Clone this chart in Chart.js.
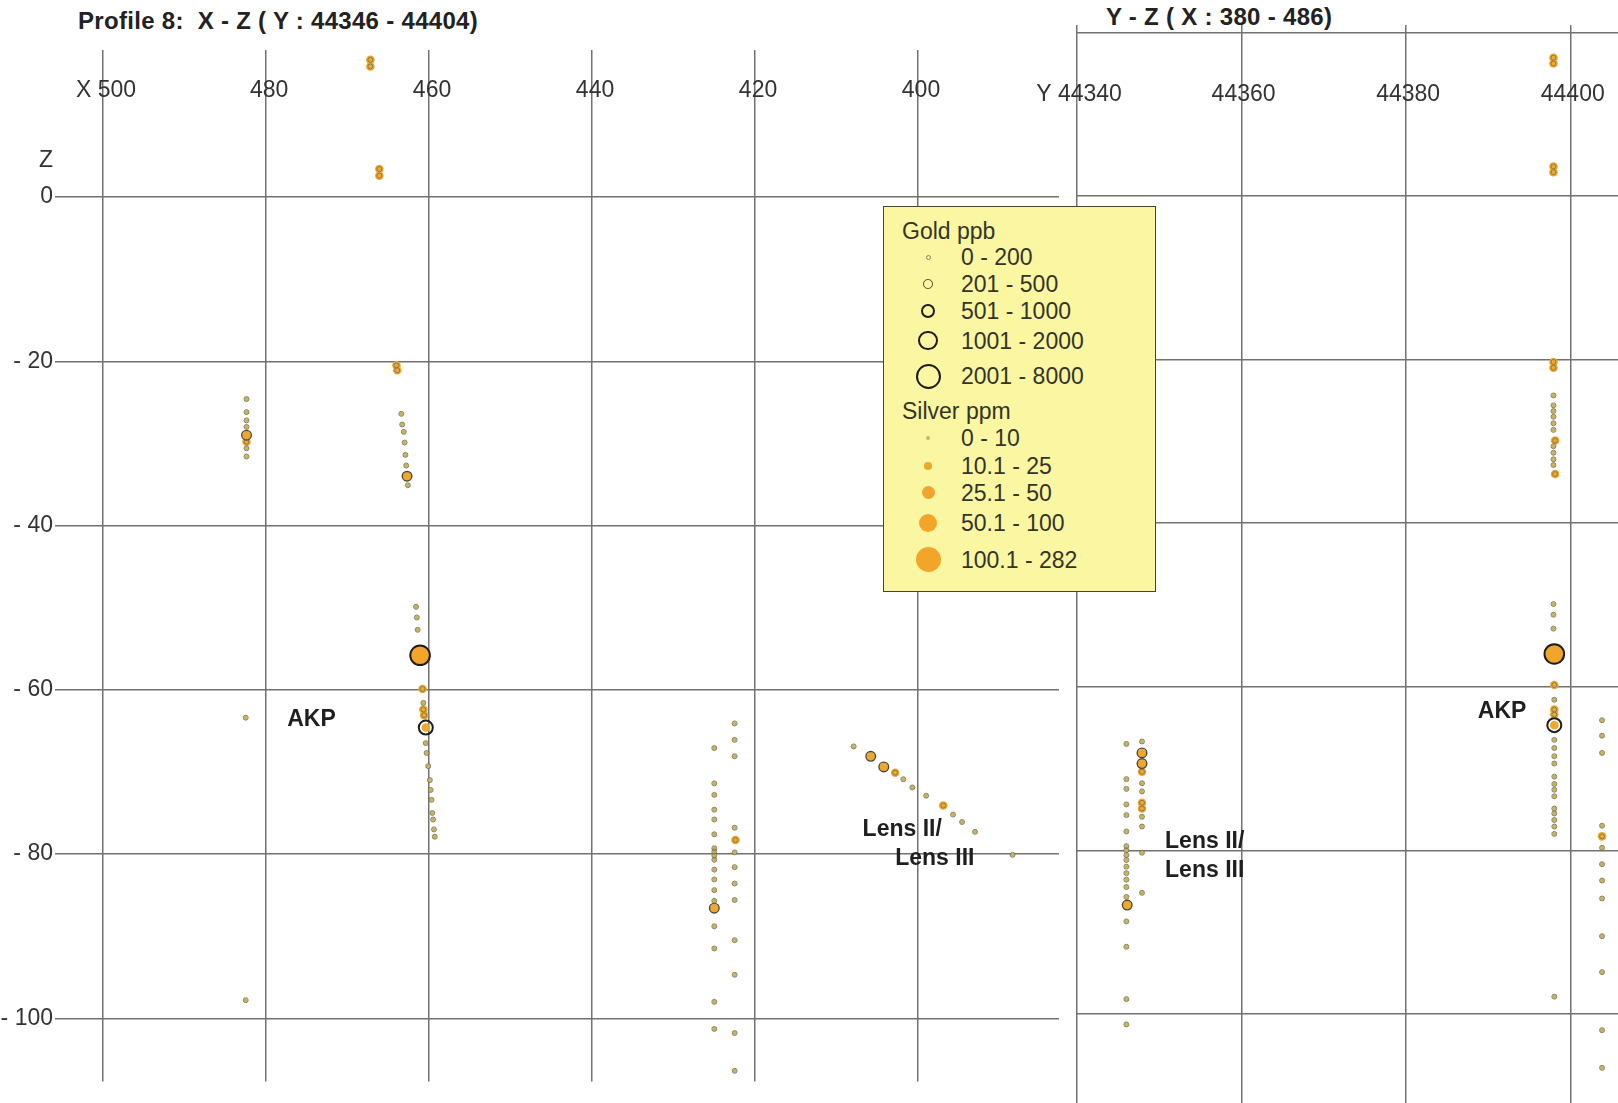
<!DOCTYPE html>
<html>
<head>
<meta charset="utf-8">
<script src="https://cdn.jsdelivr.net/npm/chart.js@4.4.1/dist/chart.umd.min.js"></script>
<style>
  html, body { margin: 0; padding: 0; background: #fff; }
  body { width: 1618px; height: 1103px; position: relative; overflow: hidden;
         font-family: "Liberation Sans", Arial, Helvetica, sans-serif; color: #2b2b2b; }
  #wrapXZ { position: absolute; left: 0; top: 0; width: 1070px; height: 1103px; }
  #wrapYZ { position: absolute; left: 1000px; top: 0; width: 618px; height: 1103px; }
  .title { position: absolute; font-weight: bold; font-size: 24px; line-height: 28px; letter-spacing: 0.3px;
           white-space: pre; color: #222; }
  #legend { position: absolute; left: 883px; top: 206px; width: 271px; height: 384px;
            background: #faf6a2; border: 1.5px solid #454535; }
  #legend .row { position: absolute; left: 0; width: 100%; height: 28px; line-height: 28px;
                 font-size: 23px; color: #343428; white-space: pre; }
  #legend .sym { position: absolute; border-radius: 50%; box-sizing: border-box; }
</style>
</head>
<body>
<div class="title" style="left:78px; top:7px;">Profile 8:  X - Z ( Y : 44346 - 44404)</div>
<div class="title" style="left:1106px; top:3px;">Y - Z ( X : 380 - 486)</div>
<div id="wrapXZ"><canvas id="xz" width="1070" height="1103"></canvas></div>
<div id="wrapYZ"><canvas id="yz" width="618" height="1103"></canvas></div>
<div id="legend"></div>

<script>
// ─── Data ─────────────────────────────────────────────────────────────────────
// every sample: [easting or northing, Z, silver class, gold class]

// X - Z section (Y 44346 - 44404)
const xzHole467 = [[467.2, 16.7, 1, 0], [467.2, 15.9, 1, 0], [466.1, 3.4, 1, 0], [466.1, 2.6, 1, 0]];
const xzHole464 = [[464.0, -20.5, 1, 0], [463.9, -21.1, 1, 0], [463.4, -26.4, 0, 0], [463.3, -27.7, 0, 0],
                   [463.1, -28.6, 0, 0], [463.0, -29.9, 0, 0], [462.9, -31.4, 0, 0], [462.8, -32.7, 0, 0],
                   [462.7, -34.0, 1, 1], [462.6, -35.1, 0, 0]];
const xzHole482 = [[482.4, -24.6, 0, 0], [482.4, -26.2, 0, 0], [482.4, -27.2, 0, 0], [482.4, -28.0, 0, 0],
                   [482.4, -29.0, 1, 1], [482.4, -29.8, 1, 0], [482.4, -30.6, 0, 0], [482.4, -31.6, 0, 0],
                   [482.5, -63.4, 0, 0], [482.5, -97.8, 0, 0]];
const xzHoleAKP = [[461.6, -49.9, 0, 0], [461.5, -51.2, 0, 0], [461.4, -52.7, 0, 0], [461.1, -55.8, 3, 3],
                   [460.8, -59.9, 1, 0], [460.7, -61.6, 0, 0], [460.7, -62.4, 1, 0], [460.6, -63.1, 1, 0],
                   [460.4, -64.6, 1, 2], [460.4, -66.5, 0, 0], [460.3, -67.7, 0, 0], [460.1, -69.3, 0, 0],
                   [459.9, -71.0, 0, 0], [459.8, -72.2, 0, 0], [459.7, -73.4, 0, 0], [459.6, -75.0, 0, 0],
                   [459.5, -75.8, 0, 0], [459.4, -77.0, 0, 0], [459.3, -77.9, 0, 0]];
const xzHole425 = [[425.0, -67.1, 0, 0], [425.0, -71.4, 0, 0], [425.0, -72.8, 0, 0], [425.0, -74.6, 0, 0],
                   [425.0, -75.8, 0, 0], [425.0, -77.6, 0, 0], [425.0, -79.3, 0, 0], [425.0, -79.7, 0, 0],
                   [425.0, -80.2, 0, 0], [425.0, -80.7, 0, 0], [425.0, -81.9, 0, 0], [425.0, -83.1, 0, 0],
                   [425.0, -84.4, 0, 0], [425.0, -85.7, 0, 0], [425.0, -86.6, 1, 1], [425.0, -88.8, 0, 0],
                   [425.0, -91.5, 0, 0], [425.0, -98.0, 0, 0], [425.0, -101.3, 0, 0]];
const xzHole422 = [[422.5, -64.1, 0, 0], [422.5, -66.1, 0, 0], [422.5, -68.1, 0, 0], [422.5, -76.8, 0, 0],
                   [422.4, -78.3, 1, 0], [422.5, -79.8, 0, 0], [422.5, -81.6, 0, 0], [422.5, -83.6, 0, 0],
                   [422.5, -85.6, 0, 0], [422.5, -90.5, 0, 0], [422.5, -94.7, 0, 0], [422.5, -101.8, 0, 0],
                   [422.5, -106.4, 0, 0]];
const xzHoleLens = [[407.9, -66.9, 0, 0], [405.8, -68.1, 1, 1], [404.2, -69.4, 1, 1], [402.8, -70.1, 1, 0],
                    [401.8, -70.9, 0, 0], [400.7, -71.9, 0, 0], [399.0, -72.9, 0, 0], [396.9, -74.1, 1, 0],
                    [395.7, -75.2, 0, 0], [394.6, -76.1, 0, 0], [393.0, -77.3, 0, 0], [388.4, -80.1, 0, 0]];

// Y - Z section (X 380 - 486)
const yzHole346 = [[44346.0, -67.0, 0, 0], [44346.0, -71.3, 0, 0], [44346.0, -72.5, 0, 0], [44346.0, -74.4, 0, 0],
                   [44346.0, -75.7, 0, 0], [44346.0, -77.7, 0, 0], [44346.0, -79.5, 0, 0], [44346.0, -80.0, 0, 0],
                   [44346.0, -80.6, 0, 0], [44346.0, -81.2, 0, 0], [44346.0, -82.0, 0, 0], [44346.0, -82.8, 0, 0],
                   [44346.0, -83.6, 0, 0], [44346.0, -84.5, 0, 0], [44346.0, -85.7, 0, 0], [44346.1, -86.7, 1, 1],
                   [44346.0, -88.7, 0, 0], [44346.0, -91.8, 0, 0], [44346.0, -98.2, 0, 0], [44346.0, -101.3, 0, 0]];
const yzHole348 = [[44347.9, -66.7, 0, 0], [44347.9, -68.1, 1, 1], [44347.9, -69.4, 1, 1], [44347.9, -70.4, 1, 0],
                   [44347.9, -71.8, 0, 0], [44347.9, -72.8, 0, 0], [44347.9, -74.2, 1, 0], [44347.9, -74.9, 1, 0],
                   [44347.9, -75.9, 0, 0], [44347.9, -77.1, 0, 0], [44347.9, -80.3, 0, 0], [44347.9, -85.2, 0, 0]];
const yzHoleAKP = [[44397.9, 16.9, 1, 0], [44397.9, 16.2, 1, 0], [44397.9, 3.6, 1, 0], [44397.9, 2.9, 1, 0],
                   [44397.9, -20.3, 1, 0], [44397.9, -21.0, 1, 0], [44397.9, -24.4, 0, 0], [44397.9, -25.6, 0, 0],
                   [44397.9, -26.3, 0, 0], [44397.9, -27.0, 0, 0], [44397.9, -27.8, 0, 0], [44397.9, -28.6, 0, 0],
                   [44398.1, -29.9, 1, 0], [44397.9, -30.6, 0, 0], [44397.9, -31.4, 0, 0], [44397.9, -32.2, 0, 0],
                   [44397.9, -32.9, 0, 0], [44398.1, -34.0, 1, 0], [44397.9, -49.9, 0, 0], [44397.9, -51.2, 0, 0],
                   [44397.9, -52.9, 0, 0], [44398.0, -56.0, 3, 3], [44398.0, -59.8, 1, 0], [44398.0, -61.6, 0, 0],
                   [44398.0, -62.8, 1, 0], [44398.0, -63.4, 1, 0], [44398.0, -64.7, 1, 2], [44398.0, -66.5, 0, 0],
                   [44398.0, -67.5, 0, 0], [44398.0, -68.5, 0, 0], [44398.0, -69.4, 0, 0], [44398.0, -71.0, 0, 0],
                   [44398.0, -71.9, 0, 0], [44398.0, -72.6, 0, 0], [44398.0, -73.4, 0, 0], [44398.0, -74.9, 0, 0],
                   [44398.0, -75.5, 0, 0], [44398.0, -76.3, 0, 0], [44398.0, -77.1, 0, 0], [44398.0, -78.0, 0, 0],
                   [44398.0, -97.9, 0, 0]];
const yzHole404 = [[44403.8, -64.1, 0, 0], [44403.8, -66.0, 0, 0], [44403.8, -68.1, 0, 0], [44403.8, -77.0, 0, 0],
                   [44403.8, -78.3, 1, 0], [44403.8, -79.7, 0, 0], [44403.8, -81.7, 0, 0], [44403.8, -83.7, 0, 0],
                   [44403.8, -85.9, 0, 0], [44403.8, -90.5, 0, 0], [44403.8, -94.9, 0, 0], [44403.8, -102.0, 0, 0],
                   [44403.8, -106.6, 0, 0]];

// axis ticks
const xzTicksX = [500, 480, 460, 440, 420, 400];
const yzTicksY = [44340, 44360, 44380, 44400];
const zTicksLeft = [0, -20, -40, -60, -80, -100];
const zTicksRight = [20, 0, -20, -40, -60, -80, -100];
const zMark = 4.45; // where the "Z" caption sits on the left axis

// classes
const goldLabels   = ["0 - 200", "201 - 500", "501 - 1000", "1001 - 2000", "2001 - 8000"];
const silverLabels = ["0 - 10", "10.1 - 25", "25.1 - 50", "50.1 - 100", "100.1 - 282"];

// annotations
const xzNotes = [{ text: "AKP", at: [477.4, -63.7] }, { text: "Lens II/", at: [406.8, -77.0] },
                 { text: "Lens III", at: [402.8, -80.6] }];
const yzNotes = [{ text: "AKP", at: [44388.7, -63.1] }, { text: "Lens II/", at: [44350.7, -79.0] },
                 { text: "Lens III", at: [44350.7, -82.5] }];

// ─── Styles ───────────────────────────────────────────────────────────────────
const FONT = '"Liberation Sans", Arial, Helvetica, sans-serif';
const gridColor = "#727272";
const goldRadius   = [2.5, 4.8, 7, 9.8, 12.5];
const goldColor    = ["rgba(120,114,80,0.85)", "#4e4630", "#1d1d1d", "#1d1d1d", "#1d1d1d"];
const goldWidth    = [1, 1.4, 2, 2, 2];
const silverRadius = [2.2, 4.3, 6.5, 9.2, 12.5];
const silverColor  = ["#c9b45c", "#efa82e", "#f0a52c", "#f3a52a", "#f3a52a"];

// ─── Datasets ─────────────────────────────────────────────────────────────────
function classSets(points) {
  const sets = [];
  goldLabels.forEach((lab, k) => sets.push({
    label: "Gold " + lab,
    data: points.filter(p => p[3] === k).map(p => ({ x: p[0], y: p[1] })),
    pointRadius: goldRadius[k],
    pointBackgroundColor: "rgba(0,0,0,0)",
    pointBorderColor: goldColor[k],
    pointBorderWidth: goldWidth[k],
    order: 1
  }));
  silverLabels.forEach((lab, k) => sets.push({
    label: "Silver " + lab,
    data: points.filter(p => p[2] === k).map(p => ({ x: p[0], y: p[1] })),
    pointRadius: silverRadius[k],
    pointBackgroundColor: silverColor[k],
    pointBorderWidth: 0,
    order: 2
  }));
  return sets;
}

// text labels placed in data coordinates
function notesPlugin(items) {
  return {
    id: "notes",
    afterDatasetsDraw(chart) {
      const { ctx, scales: { x, y } } = chart;
      ctx.save();
      ctx.font = "bold 23px " + FONT;
      ctx.fillStyle = "#1f1f1f";
      ctx.textBaseline = "middle";
      items.forEach(n => ctx.fillText(n.text, x.getPixelForValue(n.at[0]), y.getPixelForValue(n.at[1])));
      ctx.restore();
    }
  };
}

const tickFont = { family: FONT, size: 23 };
const zLabel = v => v === zMark ? "Z" : (v < 0 ? "- " + (-v) : String(v));

// the top axis lays its labels inside the plot, so it takes no room at all
function flatTopAxis(s) {
  s.height = 0;
  s.paddingLeft = 0;
  s.paddingRight = 0;
}

function baseOptions(pad) {
  return {
    responsive: false,
    animation: false,
    events: [],
    devicePixelRatio: 1,
    layout: { padding: pad, autoPadding: false },
    plugins: { legend: { display: false }, tooltip: { enabled: false } }
  };
}

// ─── X - Z chart ──────────────────────────────────────────────────────────────
const xzOpts = baseOptions({ left: 0, top: 50, right: 11, bottom: 21.5 });
xzOpts.scales = {
  x: {
    type: "linear", position: "top", reverse: true, min: 382.7, max: 505.9,
    afterBuildTicks: s => { s.ticks = xzTicksX.map(v => ({ value: v })); },
    afterFit: flatTopAxis,
    grid: { color: gridColor, lineWidth: 1.5, drawTicks: false },
    border: { display: false },
    ticks: { mirror: true, padding: 27, labelOffset: 3, autoSkip: false, maxRotation: 0, color: "#333", font: tickFont,
             callback: v => v === 500 ? "X 500" : String(v) }
  },
  y: {
    type: "linear", min: -107.7, max: 17.9,
    afterBuildTicks: s => { s.ticks = zTicksLeft.concat([zMark]).map(v => ({ value: v })); },
    afterFit: s => { s.width = 55; },
    grid: { color: c => (c.tick && c.tick.value === zMark) ? "rgba(0,0,0,0)" : gridColor, lineWidth: 1.5, drawTicks: false },
    border: { display: false },
    ticks: { padding: 2, autoSkip: false, color: "#333", font: tickFont, callback: zLabel }
  }
};

new Chart(document.getElementById("xz"), {
  type: "scatter",
  data: { datasets: classSets([].concat(xzHole467, xzHole464, xzHole482, xzHoleAKP, xzHole425, xzHole422, xzHoleLens)) },
  options: xzOpts,
  plugins: [notesPlugin(xzNotes)]
});

// ─── Y - Z chart ──────────────────────────────────────────────────────────────
const yzOpts = baseOptions({ left: 77, top: 25, right: 0, bottom: 0 });
yzOpts.scales = {
  x: {
    type: "linear", position: "top", min: 44340, max: 44405.74,
    afterBuildTicks: s => { s.ticks = yzTicksY.map(v => ({ value: v })); },
    afterFit: flatTopAxis,
    grid: { color: gridColor, lineWidth: 1.5, drawTicks: false },
    border: { display: false },
    ticks: { mirror: true, padding: 56, labelOffset: 2, autoSkip: false, maxRotation: 0, color: "#333", font: tickFont,
             callback: v => v === 44340 ? "Y 44340" : String(v) }
  },
  y: {
    type: "linear", min: -110.9, max: 20.9,
    afterBuildTicks: s => { s.ticks = zTicksRight.map(v => ({ value: v })); },
    afterFit: s => { s.width = 0; },
    grid: { color: gridColor, lineWidth: 1.5, drawTicks: false },
    border: { display: false },
    ticks: { display: false }
  }
};

new Chart(document.getElementById("yz"), {
  type: "scatter",
  data: { datasets: classSets([].concat(yzHole346, yzHole348, yzHoleAKP, yzHole404)) },
  options: yzOpts,
  plugins: [notesPlugin(yzNotes)]
});

// ─── Legend box ───────────────────────────────────────────────────────────────
const legendRowY = [23.5, 50.2, 76.8, 103.5, 133.5, 169.2, 204.2, 230.8, 259.2, 285.8, 315.8, 352.5];

(function buildLegend() {
  const box = document.getElementById("legend");
  const rows = [{ text: "Gold ppb" }]
    .concat(goldLabels.map((t, k) => ({ text: t, gold: k })))
    .concat([{ text: "Silver ppm" }])
    .concat(silverLabels.map((t, k) => ({ text: t, silver: k })));

  rows.forEach((row, i) => {
    const div = document.createElement("div");
    div.className = "row";
    div.style.top = (legendRowY[i] - 14) + "px";
    const label = document.createElement("span");
    label.textContent = row.text;
    label.style.position = "absolute";
    label.style.left = (row.gold === undefined && row.silver === undefined) ? "18px" : "77px";
    div.appendChild(label);

    if (row.gold !== undefined || row.silver !== undefined) {
      const sym = document.createElement("span");
      sym.className = "sym";
      const r = row.gold !== undefined ? goldRadius[row.gold] : silverRadius[row.silver];
      sym.style.width = sym.style.height = (2 * r) + "px";
      sym.style.left = (44 - r) + "px";
      sym.style.top = (14 - r) + "px";
      if (row.gold !== undefined) {
        sym.style.border = goldWidth[row.gold] + "px solid " + goldColor[row.gold];
      } else {
        sym.style.background = silverColor[row.silver];
      }
      div.appendChild(sym);
    }
    box.appendChild(div);
  });
})();
</script>
</body>
</html>
